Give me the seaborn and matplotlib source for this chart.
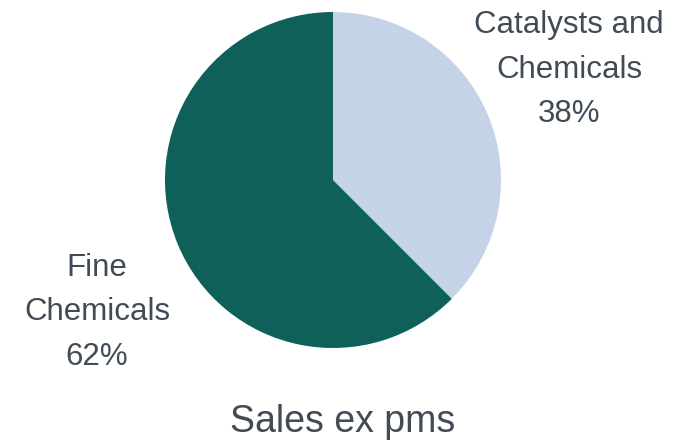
import seaborn as sns
import matplotlib.pyplot as plt

sns.set_theme(style="white")
plt.rcParams['font.family'] = ['Liberation Sans', 'DejaVu Sans']

# data
segments = ['Catalysts and\nChemicals', 'Fine\nChemicals']
shares = [37.5, 62.5]
colors = ['#c5d3e8', '#10605a']
text_color = '#414b56'

fig = plt.figure(figsize=(6.83, 4.4), dpi=100)
ax = fig.add_axes([165 / 683, 92 / 440, 336 / 683, 336 / 440])

ax.pie(shares, colors=colors, startangle=90, counterclock=False,
       radius=1, wedgeprops=dict(linewidth=0))
ax.set_xlim(-1, 1)
ax.set_ylim(-1, 1)
ax.set_aspect('equal')
ax.axis('off')

# label positions (data coords, relative to pie)
label_pos = [(1.405, 0.655), (-1.405, -0.786)]
total = sum(shares)
for name, val, (x, y) in zip(segments, shares, label_pos):
    ax.text(x, y, f'{name}\n{val / total:.0%}', ha='center', va='center',
            fontsize=22.5, color=text_color, linespacing=1.63, clip_on=False)

fig.text(343 / 683, 18 / 440, 'Sales ex pms', ha='center', va='center',
         fontsize=27, color=text_color)

plt.savefig('out.png', dpi=100)
plt.close()
